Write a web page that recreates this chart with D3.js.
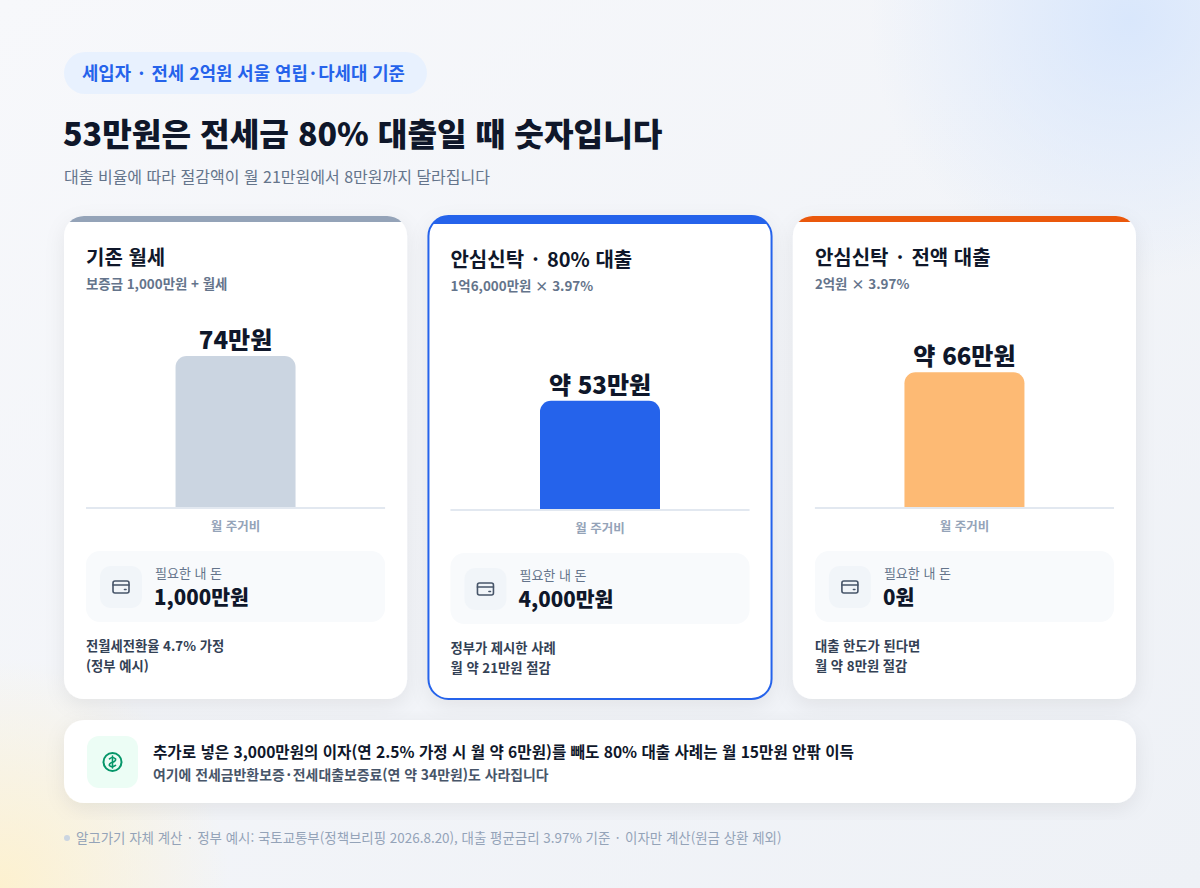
<!DOCTYPE html>
<html lang="ko">
<head>
<meta charset="utf-8">
<script src="https://cdn.jsdelivr.net/npm/d3@7"></script>
<style>
  html, body { margin: 0; padding: 0; background: #f2f4f8; }
  svg { display: block; font-family: "Noto Sans CJK KR", "Noto Sans", sans-serif; }
</style>
</head>
<body>
<svg id="chart" width="1200" height="888"></svg>
<script>
// ---------- data ----------
const tagText = "세입자 · 전세 2억원 서울 연립·다세대 기준";
const titleText = "53만원은 전세금 80% 대출일 때 숫자입니다";
const subtitleText = "대출 비율에 따라 절감액이 월 21만원에서 8만원까지 달라집니다";

const cardTitles = ["기존 월세", "안심신탁 · 80% 대출", "안심신탁 · 전액 대출"];
const cardSubtitles = ["보증금 1,000만원 + 월세", "1억6,000만원 × 3.97%", "2억원 × 3.97%"];
const monthlyCost = [74, 53, 66];               // 만원 / 월
const costLabels = ["74만원", "약 53만원", "약 66만원"];
const axisLabel = "월 주거비";
const myMoneyLabel = "필요한 내 돈";
const myMoney = ["1,000만원", "4,000만원", "0원"];
const noteLine1 = ["전월세전환율 4.7% 가정", "정부가 제시한 사례", "대출 한도가 된다면"];
const noteLine2 = ["(정부 예시)", "월 약 21만원 절감", "월 약 8만원 절감"];
const highlightIndex = 1;

const calloutMain = "추가로 넣은 3,000만원의 이자(연 2.5% 가정 시 월 약 6만원)를 빼도 80% 대출 사례는 월 15만원 안팎 이득";
const calloutSub = "여기에 전세금반환보증·전세대출보증료(연 약 34만원)도 사라집니다";
const footerText = "알고가기 자체 계산 · 정부 예시: 국토교통부(정책브리핑 2026.8.20), 대출 평균금리 3.97% 기준 · 이자만 계산(원금 상환 제외)";

// ---------- styles ----------
const stripeColors = ["#94a3b8", "#2563eb", "#ea580c"];
const barColors = ["#cbd5e1", "#2563eb", "#fdba74"];

const svg = d3.select("#chart");
const defs = svg.append("defs");

// text helper: widens the middle dot like the reference font does
function dotText(sel, str, size) {
  const parts = str.split("·");
  const pad = size * 0.13;
  parts.forEach((p, k) => {
    if (k > 0) {
      sel.append("tspan").attr("dx", pad).text("·");
      sel.append("tspan").attr("dx", pad).text(p);
    } else {
      sel.append("tspan").text(p);
    }
  });
  return sel;
}

// background gradients
const bgLin = defs.append("linearGradient").attr("id", "bgLin").attr("x1", 0).attr("y1", 0).attr("x2", 1).attr("y2", 1);
bgLin.append("stop").attr("offset", "0%").attr("stop-color", "#f7f8fb");
bgLin.append("stop").attr("offset", "100%").attr("stop-color", "#eef1f6");
const blueGlow = defs.append("radialGradient").attr("id", "blueGlow");
blueGlow.append("stop").attr("offset", "0%").attr("stop-color", "#d9e7fc").attr("stop-opacity", 1);
blueGlow.append("stop").attr("offset", "100%").attr("stop-color", "#d9e7fc").attr("stop-opacity", 0);
const yellowGlow = defs.append("radialGradient").attr("id", "yellowGlow");
yellowGlow.append("stop").attr("offset", "0%").attr("stop-color", "#fdf1cf").attr("stop-opacity", 1);
yellowGlow.append("stop").attr("offset", "100%").attr("stop-color", "#fdf1cf").attr("stop-opacity", 0);

const shadow = defs.append("filter").attr("id", "shadow").attr("x", "-10%").attr("y", "-10%").attr("width", "120%").attr("height", "130%");
shadow.append("feDropShadow").attr("dx", 0).attr("dy", 6).attr("stdDeviation", 10)
  .attr("flood-color", "#0f172a").attr("flood-opacity", 0.07);

svg.append("rect").attr("width", 1200).attr("height", 888).attr("fill", "url(#bgLin)");
svg.append("circle").attr("cx", 1130).attr("cy", 20).attr("r", 260).attr("fill", "url(#blueGlow)");
svg.append("circle").attr("cx", 0).attr("cy", 888).attr("r", 230).attr("fill", "url(#yellowGlow)");

// ---------- header ----------
const tag = svg.append("g");
const tagTxt = tag.append("text").attr("x", 82).attr("y", 80)
  .attr("font-size", 17.8).attr("font-weight", 700).attr("fill", "#2563eb");
dotText(tagTxt, tagText, 17.8);
const tagW = tagTxt.node().getBBox().width;
tag.insert("rect", "text").attr("x", 64).attr("y", 52).attr("width", tagW + 40).attr("height", 42)
  .attr("rx", 21).attr("fill", "#e8f1fe");

svg.append("text").attr("x", 63).attr("y", 146).attr("font-size", 32.2).attr("font-weight", 800)
  .attr("fill", "#0f172a").text(titleText);
svg.append("text").attr("x", 64).attr("y", 183).attr("font-size", 16).attr("font-weight", 400)
  .attr("fill", "#64748b").text(subtitleText);

// ---------- cards ----------
const cardX = d3.scaleBand().domain(d3.range(cardTitles.length)).range([64, 1136]).paddingInner(0.0586).paddingOuter(0);
const cardTop = 216, cardH = 483, pad = 22;
const barW = 120, barMaxH = 151, chartBase = 291;
const y = d3.scaleLinear().domain([0, d3.max(monthlyCost)]).range([0, barMaxH]);

function topRounded(x, yTop, w, h, r) {
  r = Math.min(r, h, w / 2);
  return `M${x},${yTop + h}V${yTop + r}A${r},${r} 0 0 1 ${x + r},${yTop}H${x + w - r}A${r},${r} 0 0 1 ${x + w},${yTop + r}V${yTop + h}Z`;
}

const cards = svg.selectAll("g.card").data(cardTitles).join("g").attr("class", "card")
  .attr("transform", (d, i) => `translate(${cardX(i)},${cardTop})`);

cards.each(function (d, i) {
  const g = d3.select(this);
  const w = cardX.bandwidth();
  const hl = i === highlightIndex;
  const dy = hl ? 2 : 0;

  defs.append("clipPath").attr("id", "clip" + i).append("rect")
    .attr("x", 0).attr("y", 0).attr("width", w).attr("height", cardH).attr("rx", 20);

  g.append("rect").attr("width", w).attr("height", cardH).attr("rx", 20)
    .attr("fill", "#ffffff").attr("filter", "url(#shadow)");
  g.append("rect").attr("clip-path", `url(#clip${i})`).attr("x", 0).attr("y", 0)
    .attr("width", w).attr("height", hl ? 8 : 6).attr("fill", stripeColors[i]);
  if (hl) {
    g.append("rect").attr("width", w).attr("height", cardH).attr("rx", 20)
      .attr("fill", "none").attr("stroke", stripeColors[i]).attr("stroke-width", 2);
  }

  const c = g.append("g").attr("transform", `translate(0,${dy})`);
  const tt = c.append("text").attr("x", pad).attr("y", 49).attr("font-size", 20).attr("font-weight", 700)
    .attr("fill", "#0f172a");
  dotText(tt, cardTitles[i], 20);
  c.append("text").attr("x", pad).attr("y", 73).attr("font-size", 13.4).attr("font-weight", 700)
    .attr("fill", "#64748b").text(cardSubtitles[i]);

  // bar
  const cx = w / 2;
  const bh = y(monthlyCost[i]);
  c.append("path").attr("d", topRounded(cx - barW / 2, chartBase - bh, barW, bh, 11)).attr("fill", barColors[i]);
  c.append("line").attr("x1", pad).attr("x2", w - pad).attr("y1", chartBase + 1).attr("y2", chartBase + 1)
    .attr("stroke", "#e2e8f0").attr("stroke-width", 2);
  c.append("text").attr("x", cx).attr("y", chartBase - bh - 7).attr("text-anchor", "middle")
    .attr("font-size", 24).attr("font-weight", 800).attr("fill", "#0f172a").text(costLabels[i]);
  c.append("text").attr("x", cx).attr("y", chartBase + 24).attr("text-anchor", "middle")
    .attr("font-size", 12.5).attr("font-weight", 700).attr("fill", "#94a3b8").text(axisLabel);

  // money box
  const mb = c.append("g").attr("transform", `translate(${pad},335)`);
  mb.append("rect").attr("width", w - 2 * pad).attr("height", 71).attr("rx", 14).attr("fill", "#f8fafc");
  mb.append("rect").attr("x", 14).attr("y", 15).attr("width", 42).attr("height", 42).attr("rx", 11).attr("fill", "#f1f5f9");
  const ic = mb.append("g").attr("transform", "translate(35,36)").attr("fill", "none")
    .attr("stroke", "#475569").attr("stroke-width", 1.6).attr("stroke-linecap", "round");
  ic.append("rect").attr("x", -8).attr("y", -6).attr("width", 16).attr("height", 12).attr("rx", 2);
  ic.append("line").attr("x1", -8).attr("x2", 8).attr("y1", -2).attr("y2", -2);
  ic.append("line").attr("x1", 3.5).attr("x2", 5).attr("y1", 2.5).attr("y2", 2.5);
  mb.append("text").attr("x", 69).attr("y", 27).attr("font-size", 13).attr("fill", "#64748b").text(myMoneyLabel);
  mb.append("text").attr("x", 68).attr("y", 54).attr("font-size", 20.5).attr("font-weight", 800)
    .attr("fill", "#0f172a").text(myMoney[i]);

  // notes
  c.append("text").attr("x", pad).attr("y", 435).attr("font-size", 13.3).attr("font-weight", 700)
    .attr("fill", "#334155").text(noteLine1[i]);
  c.append("text").attr("x", pad).attr("y", 455).attr("font-size", 13.3).attr("font-weight", 700)
    .attr("fill", "#334155").text(noteLine2[i]);
});

// ---------- callout ----------
const co = svg.append("g").attr("transform", "translate(64,720)");
co.append("rect").attr("width", 1072).attr("height", 83).attr("rx", 20).attr("fill", "#ffffff").attr("filter", "url(#shadow)");
co.append("rect").attr("x", 23).attr("y", 16).attr("width", 51).attr("height", 52).attr("rx", 12).attr("fill", "#ecfdf5");
const gi = co.append("g").attr("transform", "translate(48.5,42)").attr("fill", "none")
  .attr("stroke", "#059669").attr("stroke-width", 2).attr("stroke-linecap", "round");
gi.append("circle").attr("r", 9);
gi.append("path").attr("d", "M-3,-3.2 Q0,-5.8 3,-3.2 Q3.6,-0.8 0,0.3 Q-3.8,1.5 -3,3.6 Q0,5.8 3,3.4").attr("stroke-width", 1.6);
gi.append("line").attr("x1", 0).attr("x2", 0).attr("y1", -6).attr("y2", 6).attr("stroke-width", 1.6);
co.append("text").attr("x", 89).attr("y", 38).attr("font-size", 15.6).attr("font-weight", 700)
  .attr("fill", "#0f172a").text(calloutMain);
const cs = co.append("text").attr("x", 89).attr("y", 60).attr("font-size", 13.9).attr("font-weight", 700)
  .attr("fill", "#475569");
dotText(cs, calloutSub, 13.9);

// ---------- footer ----------
svg.append("circle").attr("cx", 67).attr("cy", 838).attr("r", 3).attr("fill", "#cbd5e1");
const ft = svg.append("text").attr("x", 76).attr("y", 843).attr("font-size", 13.45).attr("fill", "#94a3b8");
dotText(ft, footerText, 13.45);
</script>
</body>
</html>
